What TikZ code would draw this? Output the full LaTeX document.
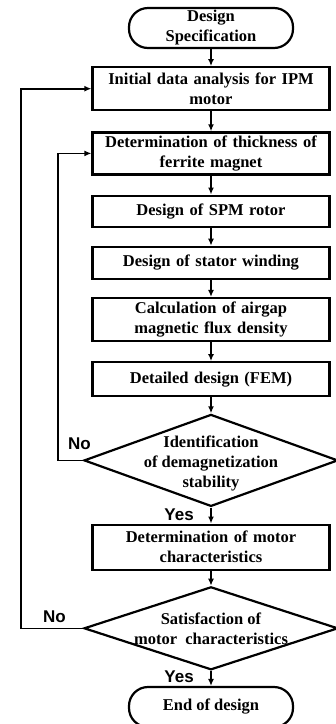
\documentclass[tikz,border=0pt]{standalone}
\usepackage{fontspec}
\setmainfont{Liberation Serif}
\newfontfamily\lblfont{Liberation Sans}
\usetikzlibrary{arrows.meta,positioning,shapes.geometric}

\begin{document}
\begin{tikzpicture}[
  x=1pt,y=1pt,
  >={Latex[length=7pt,width=6pt]},
  font=\bfseries\fontsize{16.5}{20}\selectfont,
  block/.style={draw,line width=2.2pt,minimum width=237,text width=230,align=center,inner sep=0pt},
  term/.style={draw,line width=2.2pt,rounded corners=19pt,minimum width=164,minimum height=40,align=center,inner sep=2pt},
  decision/.style={draw,diamond,line width=2.2pt,minimum width=254,minimum height=92,inner sep=0pt},
  dtext/.style={align=center,inner sep=0pt},
  answer/.style={font=\lblfont\bfseries\fontsize{17}{19}\selectfont,inner sep=0pt},
  flow/.style={->,line width=1.6pt}
]
\useasboundingbox (0,0) rectangle (336,-724);
\clip (0,0) rectangle (336,-724);

\node[term] (spec) at (211,-28) {Design\\Specification};
\node[block,minimum height=43,below=17pt of spec] (init) {Initial data analysis for IPM\\motor};
\node[block,minimum height=42,below=20pt of init] (thick) {Determination of thickness of\\ferrite magnet};
\node[block,minimum height=31,below=19pt of thick] (rotor) {Design of SPM rotor};
\node[block,minimum height=32,below=18pt of rotor] (stator) {Design of stator winding};
\node[block,minimum height=43,below=17pt of stator] (airgap) {Calculation of airgap\\magnetic flux density};
\node[block,minimum height=34,below=19pt of airgap] (fem) {Detailed design (FEM)};
\node[decision,below=16pt of fem] (demag) {};
\node[dtext] (demagtxt) at ([yshift=-3]demag.center) {Identification\\of demagnetization\\stability};
\node[block,minimum height=45,below=16pt of demag] (motchar) {Determination of motor\\characteristics};
\node[decision,minimum height=83,below=15pt of motchar] (satis) {};
\node[dtext] (satistxt) at (satis.center) {Satisfaction of\\motor\ \ characteristics};
\node[term,minimum height=40,below=15pt of satis] (finish) {End of design};

\node[answer,anchor=south east] (no1) at ([xshift=8,yshift=11]demag.west) {No};
\node[answer,anchor=north east] (yes1) at ([xshift=-17,yshift=-1]demag.south) {Yes};
\node[answer,anchor=south east] (no2) at ([xshift=-17,yshift=5]satis.west) {No};
\node[answer,anchor=north east] (yes2) at ([xshift=-17]satis.south) {Yes};

\draw[flow] (spec) -- (init);
\draw[flow] (init) -- (thick);
\draw[flow] (thick) -- (rotor);
\draw[flow] (rotor) -- (stator);
\draw[flow] (stator) -- (airgap);
\draw[flow] (airgap) -- (fem);
\draw[flow] (fem) -- (demag);
\draw[flow] (demag) -- (motchar);
\draw[flow] (motchar) -- (satis);
\draw[flow] (satis) -- (finish);
\draw[flow] (demag.west) -- ++(-25,0) |- (thick.west);
\draw[flow] (satis.west) -- ++(-62,0) |- (init.west);
\end{tikzpicture}
\end{document}
